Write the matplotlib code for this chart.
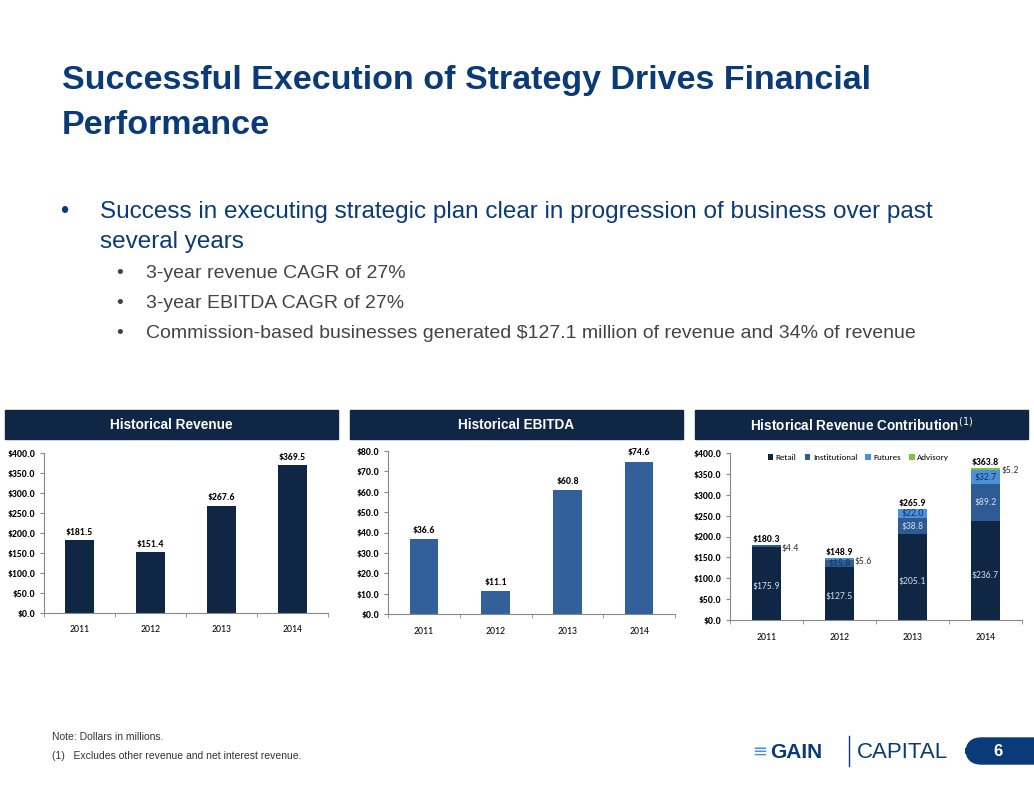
import matplotlib

matplotlib.use("Agg")
import matplotlib.pyplot as plt
from matplotlib.patches import FancyBboxPatch, Rectangle
import numpy as np

W, H = 1034, 799
years = ["2011", "2012", "2013", "2014"]
revenue = [181.5, 151.4, 267.6, 369.5]
ebitda = [36.6, 11.1, 60.8, 74.6]
retail = [175.9, 127.5, 205.1, 236.7]
institutional = [4.4, 15.8, 38.8, 89.2]
futures = [0.0, 5.6, 22.0, 32.7]
advisory = [0.0, 0.0, 0.0, 5.2]
contrib_totals = [180.3, 148.9, 265.9, 363.8]

NAVY = "#0f2744"
TITLE = "#0b3a78"
fig = plt.figure(figsize=(W / 100, H / 100), dpi=100)
plt.rcParams["font.family"] = ["Carlito", "DejaVu Sans"]


def px(x, y, w, h):
    return [x / W, 1 - (y + h) / H, w / W, h / H]


def ftext(x, y, s, **kw):
    fig.text(x / W, 1 - y / H, s, **kw)


ftext(62, 80, "Successful Execution of Strategy Drives Financial", fontsize=24.5, color=TITLE, weight="bold", va="center", family="Liberation Sans")
ftext(62, 126, "Performance", fontsize=24.5, color=TITLE, weight="bold", va="center", family="Liberation Sans")
ftext(60, 212, "•", fontsize=17, color=TITLE, va="center", family="Liberation Sans")
ftext(100, 212, "Success in executing strategic plan clear in progression of business over past", fontsize=17.5, color=TITLE, va="center", family="Liberation Sans")
ftext(100, 242, "several years", fontsize=17.5, color=TITLE, va="center", family="Liberation Sans")
for yy, s in [(274, "3-year revenue CAGR of 27%"), (304, "3-year EBITDA CAGR of 27%"),
              (334, "Commission-based businesses generated $127.1 million of revenue and 34% of revenue")]:
    ftext(116, yy, "•", fontsize=14, color="#444444", va="center", family="Liberation Sans")
    ftext(146, yy, s, fontsize=14, color="#444444", va="center", family="Liberation Sans")

for x0, x1, s in [(5, 338, "Historical Revenue"), (350, 683, "Historical EBITDA"), (695, 1028, "Historical Revenue Contribution$^{(1)}$")]:
    fig.patches.append(Rectangle((x0 / W, 1 - 439 / H), (x1 - x0) / W, 29 / H, color=NAVY, transform=fig.transFigure))
    ftext((x0 + x1) / 2, 425, s, fontsize=9.8, color="white", weight="bold", ha="center", va="center", family="Liberation Sans")


def style(ax, top, step):
    ax.set_ylim(0, top)
    ax.set_yticks(np.arange(0, top + 1, step))
    ax.set_yticklabels([f"${v:.1f}" for v in np.arange(0, top + 1, step)], fontsize=7, weight="bold")
    ax.set_xlim(-0.5, 3.5)
    ax.set_xticks(np.arange(-0.5, 4, 1), minor=True)
    ax.tick_params(axis="x", which="major", length=0, labelsize=7, pad=9)
    ax.tick_params(axis="x", which="minor", length=3, color="#888888")
    ax.tick_params(axis="y", length=3, color="#888888")
    for s in ["top", "right"]:
        ax.spines[s].set_visible(False)
    for s in ["left", "bottom"]:
        ax.spines[s].set_color("#888888")


x = np.arange(4)
ax1 = fig.add_axes(px(44, 453, 284, 160))
ax1.bar(x, revenue, width=0.4, color=NAVY)
for i, v in enumerate(revenue):
    ax1.text(i, v + 10, f"${v:.1f}", ha="center", va="bottom", fontsize=7, weight="bold")
ax1.set_xticks(x, years)
style(ax1, 400, 50)

ax2 = fig.add_axes(px(388, 451, 287, 163))
ax2.bar(x, ebitda, width=0.4, color="#33609a")
for i, v in enumerate(ebitda):
    ax2.text(i, v + 2.5, f"${v:.1f}", ha="center", va="bottom", fontsize=7, weight="bold")
ax2.set_xticks(x, years)
style(ax2, 80, 10)

ax3 = fig.add_axes(px(730, 453, 292, 167))
cols = [NAVY, "#2f5b95", "#4b90da", "#7dc242"]
names = ["Retail", "Institutional", "Futures", "Advisory"]
bottom = np.zeros(4)
for vals, c, n in zip([retail, institutional, futures, advisory], cols, names):
    ax3.bar(x, vals, width=0.4, bottom=bottom, color=c, label=n)
    bottom += np.array(vals)
for i in range(4):
    ax3.text(i, retail[i] * 0.45, f"${retail[i]:.1f}", ha="center", va="center", fontsize=7, color="#cfd8e6")
    ax3.text(i, contrib_totals[i] + 4, f"${contrib_totals[i]:.1f}", ha="center", va="bottom", fontsize=7, weight="bold")
ax3.text(0.2, retail[0] + institutional[0] - 10, f"${institutional[0]:.1f}", ha="left", va="center", fontsize=7, color="#333333")
ax3.text(1, retail[1] + institutional[1] / 2, f"${institutional[1]:.1f}", ha="center", va="center", fontsize=7, color="#14335c")
ax3.text(1.2, retail[1] + institutional[1] + futures[1] / 2 - 6, f"${futures[1]:.1f}", ha="left", va="center", fontsize=7, color="#333333")
for i in (2, 3):
    ax3.text(i, retail[i] + institutional[i] / 2, f"${institutional[i]:.1f}", ha="center", va="center", fontsize=7, color="#cfd8e6")
    ax3.text(i, retail[i] + institutional[i] + futures[i] / 2, f"${futures[i]:.1f}", ha="center", va="center", fontsize=7, color="#14335c")
ax3.text(3.22, contrib_totals[3] - 6, f"${advisory[3]:.1f}", ha="left", va="center", fontsize=7, color="#333333")
ax3.legend(loc="upper center", bbox_to_anchor=(0.44, 1.04), ncol=4, frameon=False, fontsize=6.5,
           handlelength=0.6, handleheight=0.6, columnspacing=0.9, handletextpad=0.3)
ax3.set_xticks(x, years)
style(ax3, 400, 50)

ftext(52, 737, "Note: Dollars in millions.", fontsize=7.5, color="#333333", va="center", family="Liberation Sans")
ftext(52, 756, "(1)   Excludes other revenue and net interest revenue.", fontsize=7.5, color="#333333", va="center", family="Liberation Sans")

# logo and page number
ftext(752, 752, "≡", fontsize=13, color="#4b90da", va="center", family="DejaVu Sans")
ftext(770, 752, "GAIN", fontsize=15, color=TITLE, weight="bold", va="center", family="Liberation Sans")
fig.lines.append(plt.Line2D([849 / W, 849 / W], [1 - 736 / H, 1 - 766 / H], color=TITLE, lw=1, transform=fig.transFigure))
ftext(857, 752, "CAPITAL", fontsize=16, color=TITLE, va="center", family="Liberation Sans")
fig.patches.append(FancyBboxPatch((966 / W, 1 - 764 / H), 90 / W, 26 / H, boxstyle="round,pad=0,rounding_size=0.015",
                                  color=TITLE, transform=fig.transFigure, mutation_aspect=W / H))
ftext(998, 751, "6", fontsize=12, color="white", weight="bold", ha="center", va="center", family="Liberation Sans")

fig.savefig("out.png", dpi=100)
